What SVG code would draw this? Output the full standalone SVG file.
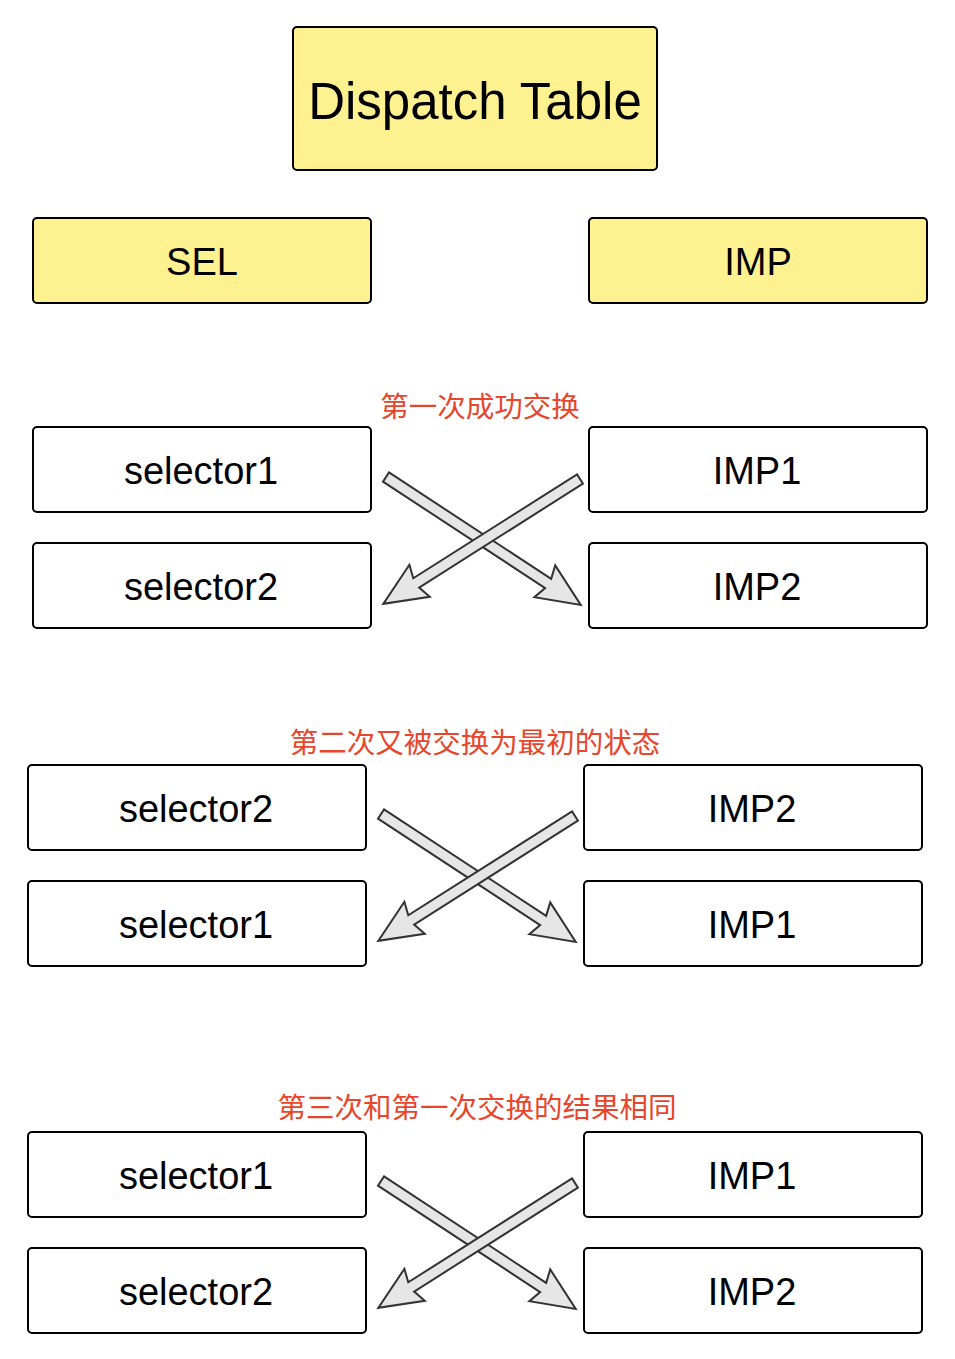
<svg xmlns="http://www.w3.org/2000/svg" xmlns:xlink="http://www.w3.org/1999/xlink" width="955" height="1359" viewBox="0 0 955 1359">
<style>
.box{fill:#fff;stroke:#000;stroke-width:2}
.y{fill:#fef290}
.t{font-family:"Liberation Sans",Arial,sans-serif;font-size:38px;fill:#000;text-anchor:middle}
.cn{font-family:"Noto Sans CJK SC",sans-serif;font-size:28.5px;fill:#e8452c;text-anchor:middle}
.arr{fill:#e6e6e6;stroke:#333;stroke-width:2;stroke-linejoin:miter}
</style>
<defs>
<path id="ba" class="arr" d="M0,-5.5 L194,-5.5 L190,-19 L233,0 L190,19 L194,5.5 L0,5.5 Z"/>
</defs>
<rect width="955" height="1359" fill="#fff"/>
<g id="dispatch"><rect class="box y" x="293" y="27" width="364" height="143" rx="4"/><text class="t" x="475" y="119" style="font-size:51px">Dispatch Table</text></g>
<g id="sel"><rect class="box y" x="33" y="218" width="338" height="85" rx="4"/><text class="t" x="202" y="275">SEL</text></g>
<g id="imp"><rect class="box y" x="589" y="218" width="338" height="85" rx="4"/><text class="t" x="758" y="275">IMP</text></g>

<text class="cn" x="480" y="417">第一次成功交换</text>
<g id="s1a"><rect class="box" x="33" y="427" width="338" height="85" rx="4"/><text class="t" x="201" y="484">selector1</text></g>
<g id="s1b"><rect class="box" x="33" y="543" width="338" height="85" rx="4"/><text class="t" x="201" y="600">selector2</text></g>
<g id="i1a"><rect class="box" x="589" y="427" width="338" height="85" rx="4"/><text class="t" x="757" y="484">IMP1</text></g>
<g id="i1b"><rect class="box" x="589" y="543" width="338" height="85" rx="4"/><text class="t" x="757" y="600">IMP2</text></g>

<text class="cn" x="475" y="753">第二次又被交换为最初的状态</text>
<g id="s2a"><rect class="box" x="28" y="765" width="338" height="85" rx="4"/><text class="t" x="196" y="822">selector2</text></g>
<g id="s2b"><rect class="box" x="28" y="881" width="338" height="85" rx="4"/><text class="t" x="196" y="938">selector1</text></g>
<g id="i2a"><rect class="box" x="584" y="765" width="338" height="85" rx="4"/><text class="t" x="752" y="822">IMP2</text></g>
<g id="i2b"><rect class="box" x="584" y="881" width="338" height="85" rx="4"/><text class="t" x="752" y="938">IMP1</text></g>

<text class="cn" x="477" y="1118">第三次和第一次交换的结果相同</text>
<g id="s3a"><rect class="box" x="28" y="1132" width="338" height="85" rx="4"/><text class="t" x="196" y="1189">selector1</text></g>
<g id="s3b"><rect class="box" x="28" y="1248" width="338" height="85" rx="4"/><text class="t" x="196" y="1305">selector2</text></g>
<g id="i3a"><rect class="box" x="584" y="1132" width="338" height="85" rx="4"/><text class="t" x="752" y="1189">IMP1</text></g>
<g id="i3b"><rect class="box" x="584" y="1248" width="338" height="85" rx="4"/><text class="t" x="752" y="1305">IMP2</text></g>

<g id="connectors">
<use xlink:href="#ba" transform="translate(386,477) rotate(33.3)"/>
<use xlink:href="#ba" transform="translate(580,479) rotate(147.6)"/>
<use xlink:href="#ba" transform="translate(381,814) rotate(33.3)"/>
<use xlink:href="#ba" transform="translate(575,816) rotate(147.6)"/>
<use xlink:href="#ba" transform="translate(381,1181) rotate(33.3)"/>
<use xlink:href="#ba" transform="translate(575,1183) rotate(147.6)"/>
</g>
</svg>
